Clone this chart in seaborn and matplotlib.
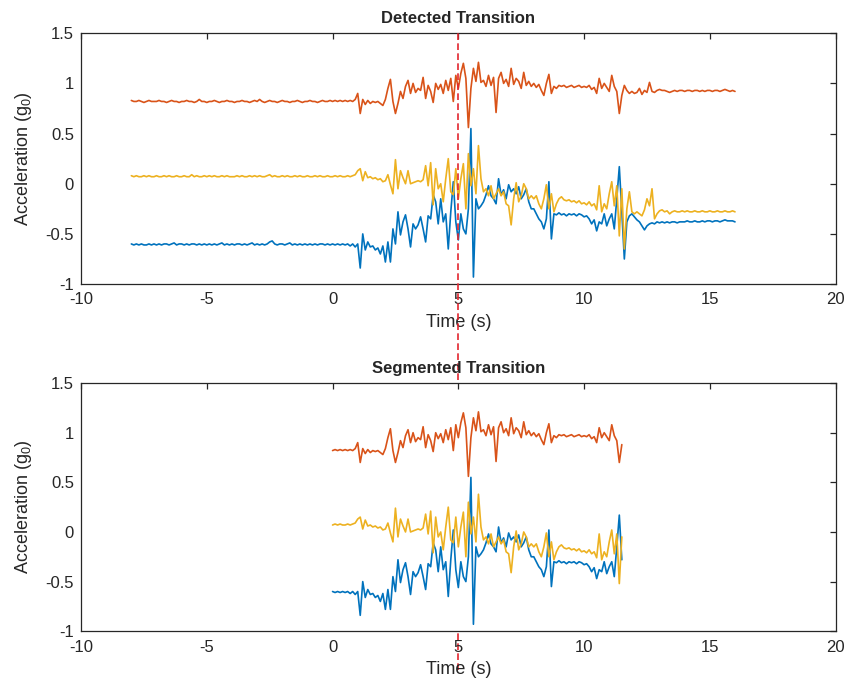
import numpy as np
import pandas as pd
import matplotlib
matplotlib.use('Agg')
import matplotlib.pyplot as plt
import matplotlib.transforms as mtransforms
from matplotlib.ticker import FuncFormatter
import seaborn as sns

# sample grid: -8 s .. 16 s, 0.1 s apart
t = np.round(np.arange(-80, 161) / 10.0, 1)

acc_x = [
    -0.60, -0.61, -0.60, -0.61, -0.60, -0.61, -0.61, -0.60, -0.61, -0.60,
    -0.61, -0.60, -0.61, -0.60, -0.60, -0.61, -0.60, -0.59, -0.61, -0.60,
    -0.60, -0.61, -0.60, -0.61, -0.60, -0.60, -0.61, -0.60, -0.61, -0.60,
    -0.61, -0.60, -0.61, -0.60, -0.61, -0.60, -0.59, -0.61, -0.60, -0.61,
    -0.60, -0.61, -0.60, -0.60, -0.61, -0.60, -0.61, -0.60, -0.59, -0.61,
    -0.60, -0.61, -0.60, -0.61, -0.60, -0.58, -0.57, -0.60, -0.61, -0.60,
    -0.60, -0.61, -0.60, -0.59, -0.61, -0.60, -0.61, -0.60, -0.61, -0.60,
    -0.61, -0.60, -0.61, -0.60, -0.61, -0.60, -0.60, -0.61, -0.60, -0.61,
    -0.60, -0.61, -0.60, -0.61, -0.60, -0.61, -0.60, -0.62, -0.60, -0.63,
    -0.60, -0.84, -0.50, -0.66, -0.58, -0.63, -0.62, -0.66, -0.64, -0.70,
    -0.62, -0.78, -0.58, -0.78, -0.45, -0.60, -0.28, -0.51, -0.38, -0.31,
    -0.45, -0.63, -0.40, -0.45, -0.41, -0.33, -0.45, -0.58, -0.32, -0.35,
    -0.11, -0.18, -0.40, -0.15, -0.38, -0.30, -0.65, -0.28, 0.02, -0.38,
    -0.56, -0.30, -0.45, -0.50, -0.25, 0.55, -0.93, -0.15, -0.25, -0.22,
    -0.18, -0.11, -0.02, -0.12, -0.15, -0.20, 0.05, -0.11, -0.06, -0.15,
    -0.01, -0.08, -0.05, -0.10, -0.03, -0.15, -0.11, -0.05, -0.18, -0.25,
    -0.25, -0.30, -0.35, -0.38, -0.45, -0.35, 0.02, -0.55, -0.30, -0.31,
    -0.29, -0.31, -0.30, -0.32, -0.30, -0.31, -0.30, -0.32, -0.30, -0.31,
    -0.33, -0.32, -0.35, -0.40, -0.36, -0.47, -0.38, -0.40, -0.30, -0.42,
    -0.35, -0.30, -0.45, -0.15, 0.17, -0.28, -0.75, -0.38, -0.32, -0.30,
    -0.33, -0.36, -0.38, -0.42, -0.46, -0.42, -0.40, -0.39, -0.40, -0.38,
    -0.39, -0.38, -0.39, -0.38, -0.39, -0.38, -0.38, -0.39, -0.38, -0.38,
    -0.38, -0.37, -0.38, -0.38, -0.37, -0.38, -0.38, -0.37, -0.38, -0.37,
    -0.37, -0.38, -0.37, -0.37, -0.38, -0.37, -0.36, -0.37, -0.37, -0.37,
    -0.38,
]

acc_y = [
    0.83, 0.82, 0.82, 0.83, 0.82, 0.81, 0.82, 0.83, 0.82, 0.82,
    0.82, 0.83, 0.82, 0.82, 0.81, 0.82, 0.83, 0.82, 0.82, 0.81,
    0.82, 0.82, 0.83, 0.82, 0.82, 0.81, 0.82, 0.84, 0.82, 0.82,
    0.81, 0.82, 0.82, 0.83, 0.82, 0.81, 0.82, 0.82, 0.83, 0.82,
    0.82, 0.81, 0.82, 0.82, 0.83, 0.82, 0.82, 0.81, 0.82, 0.83,
    0.82, 0.84, 0.82, 0.81, 0.82, 0.83, 0.82, 0.82, 0.81, 0.82,
    0.83, 0.82, 0.82, 0.81, 0.82, 0.82, 0.83, 0.82, 0.81, 0.82,
    0.82, 0.83, 0.82, 0.82, 0.81, 0.82, 0.83, 0.82, 0.82, 0.83,
    0.82, 0.83, 0.82, 0.83, 0.82, 0.83, 0.82, 0.83, 0.82, 0.84,
    0.90, 0.70, 0.84, 0.79, 0.83, 0.80, 0.82, 0.81, 0.82, 0.80,
    0.78, 0.84, 0.95, 1.04, 0.82, 0.70, 0.80, 0.92, 0.85, 0.97,
    1.03, 0.90, 1.00, 0.91, 0.95, 0.93, 1.06, 0.85, 0.98, 0.92,
    0.81, 1.00, 0.94, 0.99, 0.90, 1.03, 0.93, 1.05, 0.82, 1.08,
    0.95, 1.10, 1.20, 1.05, 0.56, 0.95, 1.15, 1.02, 1.21, 1.01,
    1.03, 0.97, 1.08, 0.98, 1.06, 0.71, 1.05, 1.11, 1.00, 1.04,
    0.97, 1.15, 0.99, 1.05, 1.02, 0.95, 1.11, 0.98, 1.02, 0.97,
    1.00, 0.96, 0.99, 0.93, 0.88, 1.00, 1.09, 0.90, 0.97, 0.95,
    0.98, 0.97, 0.98, 0.96, 0.97, 0.98, 0.96, 0.97, 0.98, 0.96,
    0.97, 0.96, 0.98, 0.94, 0.96, 0.90, 1.05, 0.95, 1.00, 0.96,
    0.92, 1.08, 0.97, 0.92, 0.70, 0.88, 0.98, 0.93, 0.90, 0.92,
    0.90, 0.91, 0.95, 0.89, 0.93, 0.91, 1.01, 0.92, 0.91, 0.93,
    0.94, 0.93, 0.93, 0.92, 0.91, 0.92, 0.93, 0.92, 0.93, 0.93,
    0.92, 0.93, 0.93, 0.92, 0.93, 0.93, 0.92, 0.93, 0.92, 0.93,
    0.93, 0.92, 0.93, 0.93, 0.92, 0.93, 0.94, 0.93, 0.92, 0.93,
    0.92,
]

acc_z = [
    0.08, 0.07, 0.08, 0.07, 0.07, 0.08, 0.07, 0.08, 0.07, 0.07,
    0.08, 0.07, 0.07, 0.08, 0.07, 0.08, 0.07, 0.07, 0.08, 0.07,
    0.07, 0.08, 0.07, 0.07, 0.09, 0.07, 0.08, 0.07, 0.07, 0.08,
    0.07, 0.08, 0.07, 0.08, 0.07, 0.07, 0.08, 0.07, 0.08, 0.07,
    0.07, 0.07, 0.08, 0.07, 0.08, 0.07, 0.07, 0.08, 0.07, 0.08,
    0.07, 0.08, 0.07, 0.07, 0.08, 0.09, 0.07, 0.08, 0.07, 0.07,
    0.08, 0.07, 0.08, 0.07, 0.07, 0.08, 0.07, 0.08, 0.07, 0.07,
    0.08, 0.07, 0.07, 0.08, 0.07, 0.08, 0.07, 0.07, 0.08, 0.07,
    0.07, 0.08, 0.07, 0.08, 0.07, 0.07, 0.08, 0.07, 0.08, 0.09,
    0.13, 0.15, 0.03, 0.12, 0.06, 0.07, 0.05, 0.06, 0.04, 0.05,
    0.02, 0.03, 0.09, -0.01, -0.10, 0.24, -0.05, 0.13, 0.06, 0.00,
    0.13, 0.00, 0.01, 0.02, 0.03, 0.02, 0.04, 0.18, -0.02, 0.21,
    -0.21, 0.15, -0.05, 0.00, -0.18, 0.05, 0.25, -0.08, -0.11, 0.15,
    -0.15, 0.05, 0.20, -0.25, 0.30, -0.02, 0.15, -0.10, 0.38, 0.05,
    -0.08, -0.05, -0.12, -0.02, -0.15, -0.10, -0.05, -0.12, -0.08, -0.20,
    -0.22, -0.41, -0.15, 0.01, -0.18, -0.12, 0.00, -0.05, -0.15, -0.12,
    -0.15, -0.12, -0.20, -0.25, -0.15, -0.01, -0.25, -0.10, -0.28, -0.20,
    -0.15, -0.13, -0.16, -0.17, -0.16, -0.18, -0.17, -0.19, -0.17, -0.20,
    -0.19, -0.21, -0.18, -0.22, -0.20, -0.26, -0.02, -0.28, -0.20, -0.25,
    -0.10, 0.02, -0.22, -0.02, -0.52, -0.05, -0.65, -0.25, -0.08, -0.28,
    -0.30, -0.28, -0.30, -0.32, -0.26, -0.15, -0.22, -0.05, -0.35, -0.30,
    -0.27, -0.26, -0.28, -0.27, -0.30, -0.28, -0.27, -0.28, -0.28, -0.27,
    -0.28, -0.27, -0.28, -0.28, -0.27, -0.28, -0.28, -0.27, -0.28, -0.28,
    -0.27, -0.28, -0.28, -0.27, -0.28, -0.28, -0.27, -0.28, -0.28, -0.27,
    -0.28,
]

axis_names = ['x', 'y', 'z']
colors = ['#0072BD', '#D95319', '#EDB120']
transition_time = 5
segment = (0, 11.5)
titles = ['Detected Transition', 'Segmented Transition']

sns.set_style('white')
plt.rcParams['font.family'] = ['Liberation Sans', 'DejaVu Sans']
plt.rcParams['xtick.direction'] = 'in'
plt.rcParams['ytick.direction'] = 'in'
plt.rcParams['xtick.top'] = True
plt.rcParams['ytick.right'] = True
plt.rcParams['xtick.major.size'] = 4
plt.rcParams['ytick.major.size'] = 4
plt.rcParams['axes.edgecolor'] = '#262626'
plt.rcParams['axes.linewidth'] = 0.9

df = pd.DataFrame({
    'time': np.concatenate([t, t, t]),
    'acc': np.concatenate([acc_x, acc_y, acc_z]),
    'axis': np.repeat(axis_names, len(t)),
})
seg = df[(df['time'] >= segment[0]) & (df['time'] <= segment[1])]

fig = plt.figure(figsize=(8.45, 6.78), dpi=100)
ax1 = fig.add_axes([0.0959, 0.581, 0.893, 0.370])
ax2 = fig.add_axes([0.0959, 0.069, 0.893, 0.366])

fmt = FuncFormatter(lambda v, p: '%g' % v)
for ax, data, title in zip([ax1, ax2], [df, seg], titles):
    sns.lineplot(data=data, x='time', y='acc', hue='axis', hue_order=axis_names,
                 palette=colors, estimator=None, legend=False, linewidth=1.2, ax=ax)
    ax.set_xlim(-10, 20)
    ax.set_ylim(-1, 1.5)
    ax.set_xticks(np.arange(-10, 21, 5))
    ax.set_yticks(np.arange(-1, 1.51, 0.5))
    ax.xaxis.set_major_formatter(fmt)
    ax.yaxis.set_major_formatter(fmt)
    ax.tick_params(axis='x', labelsize=12, colors='#262626', width=0.9, pad=6)
    ax.tick_params(axis='y', labelsize=12, colors='#262626', width=0.9, pad=5)
    ax.set_xlabel('Time (s)', fontsize=13, labelpad=5)
    ax.set_ylabel(r'Acceleration (g$_\mathregular{0}$)', fontsize=13, labelpad=8)
    ax.set_title(title, fontsize=12, fontweight='bold', pad=7)

# transition marker spans both panels
trans = mtransforms.blended_transform_factory(ax1.transData, fig.transFigure)
ax1.plot([transition_time, transition_time], [0.012, 0.951], transform=trans,
         color='#E3262F', linestyle=(0, (4, 2)), linewidth=1.2, clip_on=False, zorder=10)

fig.savefig('out.png', dpi=100)
